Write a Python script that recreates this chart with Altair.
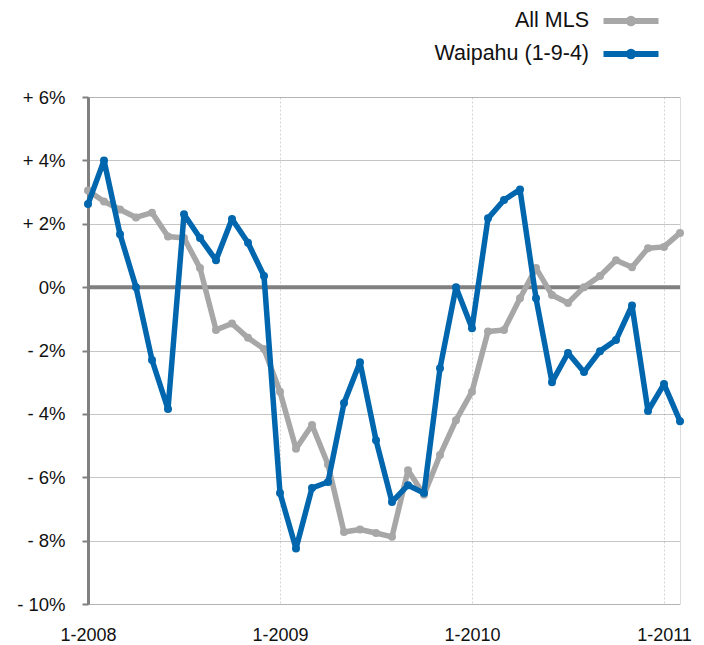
import altair as alt
import pandas as pd

# ---- data (monthly, Jan 2008 .. Feb 2011) ----
month_index = list(range(38))
all_mls = [3.05, 2.7, 2.45, 2.2, 2.35, 1.6, 1.55, 0.6, -1.35, -1.15, -1.6, -1.95,
           -3.3, -5.1, -4.35, -5.6, -7.73, -7.65, -7.76, -7.88, -5.78, -6.55, -5.3, -4.2,
           -3.3, -1.4, -1.35, -0.35, 0.6, -0.25, -0.5, 0.0, 0.35, 0.85, 0.63, 1.23,
           1.27, 1.71]
waipahu = [2.62, 4.0, 1.67, 0.0, -2.3, -3.85, 2.3, 1.55, 0.85, 2.15, 1.4, 0.35,
           -6.5, -8.25, -6.34, -6.15, -3.66, -2.37, -4.83, -6.78, -6.25, -6.5, -2.56, 0.0,
           -1.3, 2.17, 2.75, 3.08, -0.35, -3.0, -2.08, -2.68, -2.02, -1.67, -0.58, -3.91,
           -3.06, -4.23]
series_names = ["All MLS", "Waipahu (1-9-4)"]
series_colors = ["#A7A7A7", "#0066AE"]
x_tick_values = [0, 12, 24, 36]
x_tick_labels = ["1-2008", "1-2009", "1-2010", "1-2011"]
y_tick_values = [-10, -8, -6, -4, -2, 0, 2, 4, 6]

rows = []
for name, vals in zip(series_names, [all_mls, waipahu]):
    for m, v in zip(month_index, vals):
        rows.append({"month": m, "value": v, "series": name})
df = pd.DataFrame(rows)

FONT = "Liberation Sans"

x_label_expr = ""
for v, lab in zip(x_tick_values, x_tick_labels):
    x_label_expr += f"datum.value == {v} ? '{lab}' : "
x_label_expr += "''"
y_label_expr = ("datum.value > 0 ? '+ ' + datum.value + '%' : "
                "(datum.value < 0 ? '- ' + abs(datum.value) + '%' : '0%')")

x_enc = alt.X(
    "month:Q",
    scale=alt.Scale(domain=[0, 37], nice=False, zero=False),
    axis=alt.Axis(values=x_tick_values, labelExpr=x_label_expr, title=None,
                  grid=True, gridColor="#d4d4d4", gridDash=[2, 2], gridWidth=1,
                  domain=False, ticks=False, labelPadding=22, labelFontSize=18,
                  labelFlush=False, labelFont=FONT, labelColor="#111"),
)
y_enc = alt.Y(
    "value:Q",
    scale=alt.Scale(domain=[-10, 6], nice=False, zero=False),
    axis=alt.Axis(values=y_tick_values, labelExpr=y_label_expr, title=None,
                  grid=True, gridColor="#8a8a8a", gridDash=[1, 1], gridWidth=1,
                  domain=True, domainColor="#808080", domainWidth=3,
                  ticks=True, tickColor="#808080", tickWidth=2, tickSize=6,
                  labelPadding=17, labelFontSize=18.5, labelFont=FONT, labelColor="#111"),
)

# legend symbol: a stroke with a dot, drawn to the right of the (right-aligned) label
legend_symbol = ("M2.75,0L8.25,0M5.72,0A0.22,0.22 0 1,1 5.28,0"
                 "A0.22,0.22 0 1,1 5.72,0")
color_enc = alt.Color(
    "series:N",
    scale=alt.Scale(domain=series_names, range=series_colors),
    legend=alt.Legend(title=None, orient="none", legendX=475, legendY=-89,
                      symbolType=legend_symbol, symbolSize=400, symbolStrokeWidth=6,
                      labelAlign="right", labelOffset=0, labelFontSize=21.5,
                      labelFont=FONT, labelColor="#111", rowPadding=3,
                      labelLimit=300),
)

zero_rule = alt.Chart(pd.DataFrame({"v": [0]})).mark_rule(
    color="#808080", strokeWidth=4).encode(y=alt.Y("v:Q"))

def series_layer(name):
    return alt.Chart(df).transform_filter(alt.datum.series == name).mark_line(
        strokeWidth=5.5, strokeJoin="round", strokeCap="round",
        point=alt.OverlayMarkDef(filled=True, size=64, opacity=1),
    ).encode(x=x_enc, y=y_enc, color=color_enc)

chart = alt.layer(
    zero_rule,
    series_layer(series_names[0]),
    series_layer(series_names[1]),
).properties(
    width=592, height=507,
    autosize=alt.AutoSizeParams(type="none"),
    padding={"left": 80, "top": 89, "right": 16, "bottom": 40},
).configure_view(
    stroke="#8a8a8a", strokeDash=[1, 1], strokeWidth=1
).configure(font=FONT)

chart.save("out.html", embed_options={"renderer": "svg", "actions": False})
